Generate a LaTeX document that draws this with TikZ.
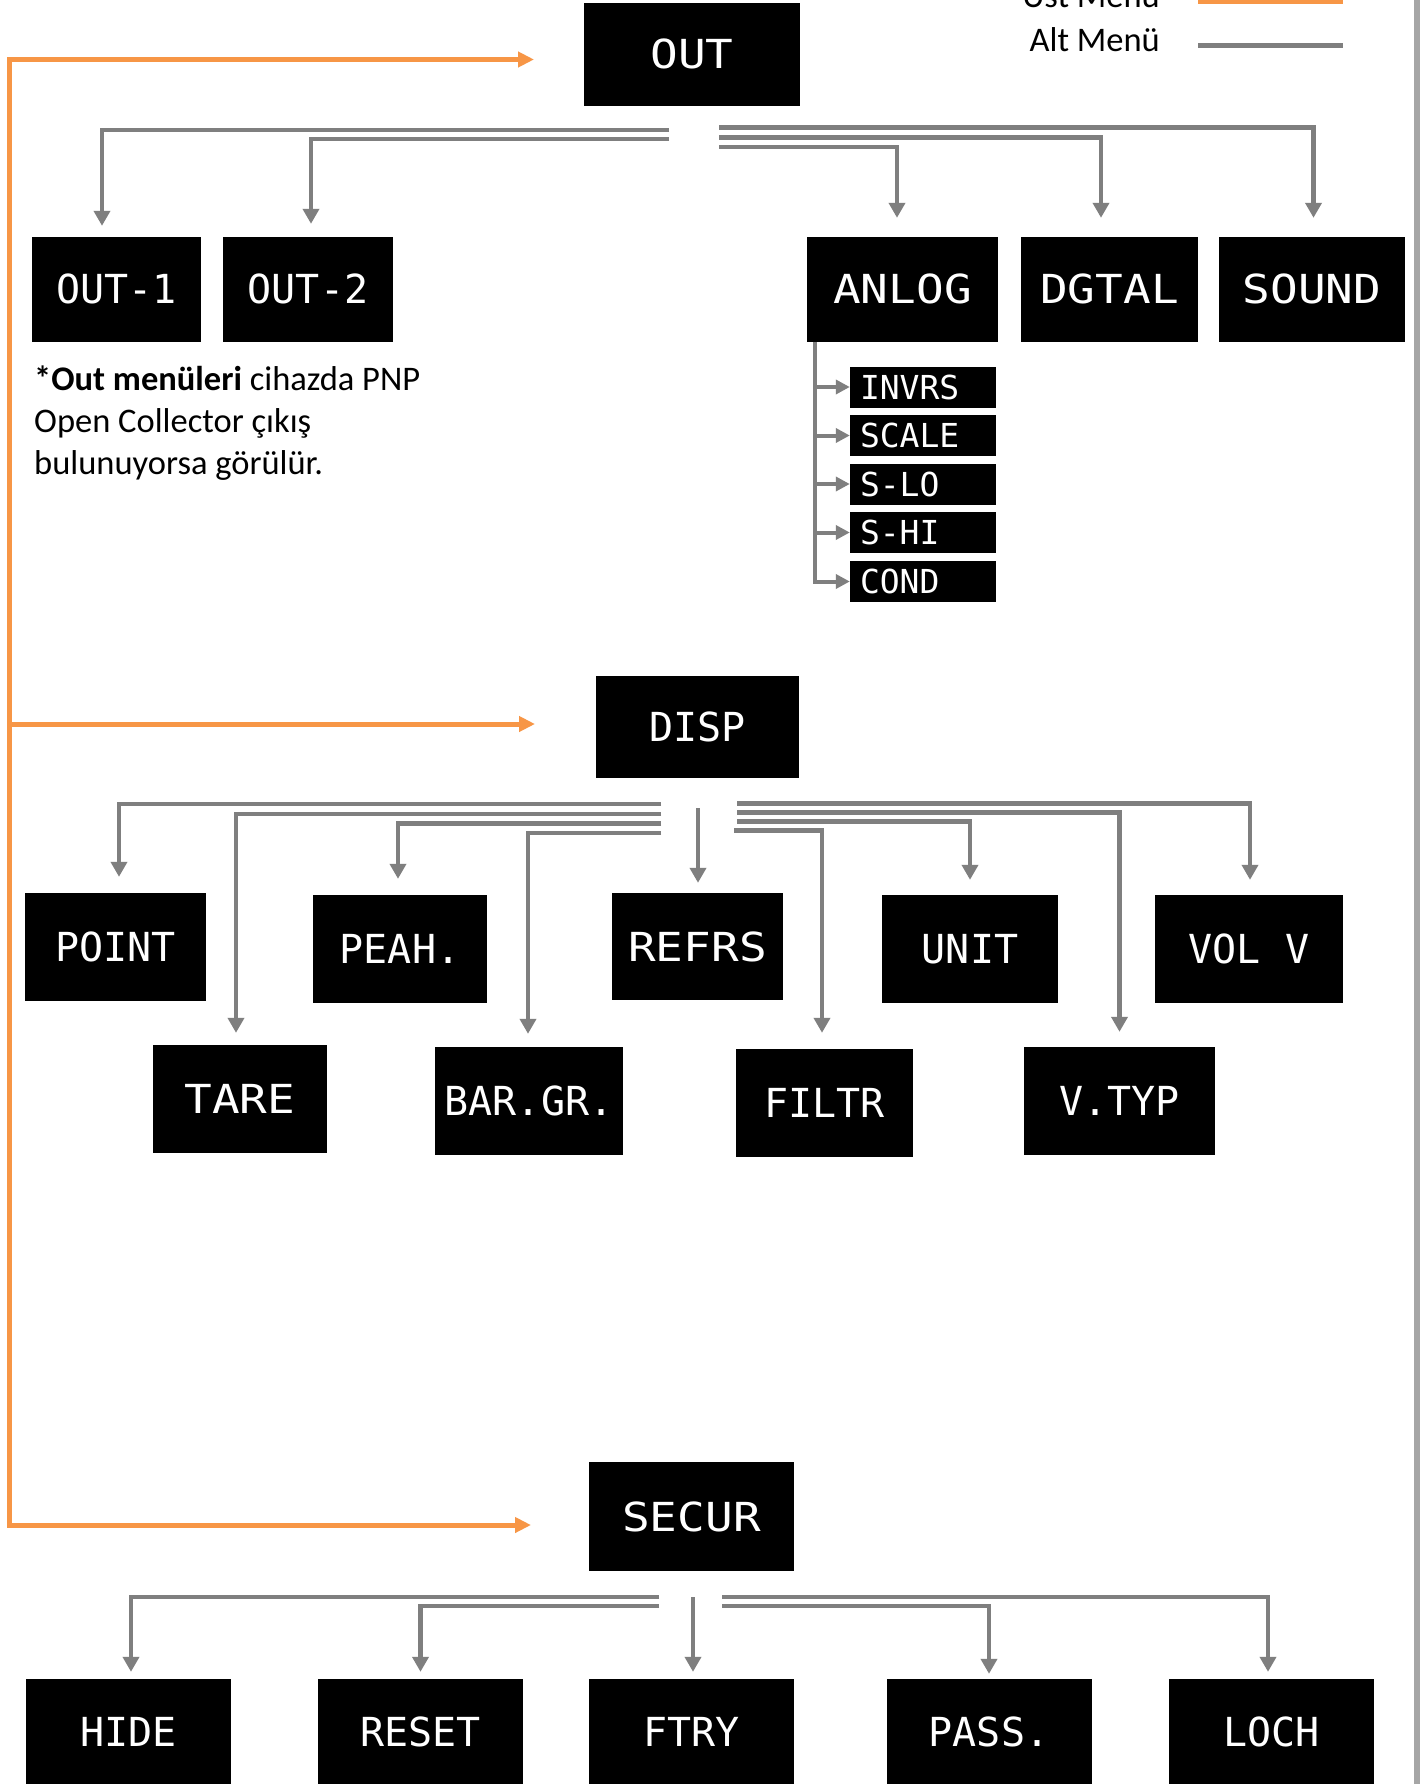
\documentclass[tikz,border=0pt]{standalone}
\usepackage{fontspec}
\setmainfont{Carlito}
\newfontfamily\lcd{DejaVu Sans Mono}
\newfontfamily\lcdwide[FakeStretch=1.15]{DejaVu Sans Mono}
\usetikzlibrary{arrows.meta}
\definecolor{ustc}{HTML}{F79646}
\definecolor{altc}{HTML}{7F7F7F}
\definecolor{edgec}{HTML}{A6A6A6}
\tikzset{
  lcdbox/.style={fill=black, text=white, inner sep=0pt, font=\lcd\fontsize{40}{48}\selectfont,
    text height=29pt, text depth=0pt, align=center},
  lcdwidebox/.style={lcdbox, font=\lcdwide\fontsize{40}{48}\selectfont},
  subbox/.style={fill=black, text=white, font=\lcd\fontsize{33}{40}\selectfont, text height=24pt,
    text depth=0pt, minimum height=41pt, inner xsep=10pt, inner ysep=0pt, align=left, text width=126pt},
  sub/.style={draw=altc, line width=4.5pt, -{Triangle[width=16pt,length=15pt]}, shorten >=14pt},
  subsm/.style={draw=altc, line width=4pt, -{Triangle[width=14pt,length=14pt]}},
  ustarrow/.style={draw=ustc, line width=5pt},
  legtext/.style={font=\fontsize{34.5}{40}\selectfont, inner sep=0pt},
  notetext/.style={font=\fontsize{34.5}{41}\selectfont, inner sep=0pt, anchor=base west},
}
\begin{document}
\begin{tikzpicture}[x=1pt,y=-1pt]
\useasboundingbox (0,0) rectangle (1420,1784);
\clip (0,0) rectangle (1420,1784);
\fill[white] (0,0) rectangle (1420,1784);
\fill[edgec] (1414,0) rectangle (1420,1784);

% legend
\node[legtext, anchor=base east] (lu) at (1160,8) {Üst Menü};
\node[legtext, anchor=base east] (la) at (1160,52) {Alt Menü};
\coordinate (lu1) at (1198,1.5); \coordinate (lu2) at (1343,1.5);
\coordinate (la1) at (1198,45.5); \coordinate (la2) at (1343,45.5);
\draw[draw=ustc, line width=4.5pt] (lu1) -- (lu2);
\draw[draw=altc, line width=4.5pt] (la1) -- (la2);

% ---------- OUT ----------
\node[lcdwidebox, minimum width=216pt, minimum height=103pt] (out) at (692,54.5) {OUT};
\node[lcdbox, minimum width=169pt, minimum height=105pt] (o1) at (116.5,289.5) {OUT-1};
\node[lcdbox, minimum width=170pt, minimum height=105pt] (o2) at (308,289.5) {OUT-2};
\node[lcdwidebox, minimum width=191pt, minimum height=105pt] (anlog) at (902.5,289.5) {ANLOG};
\node[lcdwidebox, minimum width=177pt, minimum height=105pt] (dgtal) at (1109.5,289.5) {DGTAL};
\node[lcdwidebox, minimum width=186pt, minimum height=105pt] (sound) at (1312,289.5) {SOUND};

\coordinate (oL1) at (669,130); \coordinate (oL2) at (669,139);
\coordinate (oR1) at (719,127.5); \coordinate (oR2) at (719,137.5); \coordinate (oR3) at (719,147);
\draw[sub, shorten >=11pt] (oL1) -| ([xshift=-14.5pt]o1.north);
\draw[sub, shorten >=13pt] (oL2) -| ([xshift=3pt]o2.north);
\draw[sub, shorten >=19pt] (oR3) -| ([xshift=-5.5pt]anlog.north);
\draw[sub, shorten >=19pt] (oR2) -| ([xshift=-8.5pt]dgtal.north);
\draw[sub, shorten >=19pt] (oR1) -| ([xshift=1.5pt]sound.north);

% ANLOG sub menu
\node[subbox] (invrs) at (923,387) {INVRS};
\node[subbox] (scale) at (923,435.5) {SCALE};
\node[subbox] (slo) at (923,484) {S-LO};
\node[subbox] (shi) at (923,532.5) {S-HI};
\node[subbox] (cond) at (923,581.5) {COND};
\coordinate (av) at (815,342);
\draw[subsm] (av) |- (cond.west);
\draw[subsm] (av |- invrs.west) -- (invrs.west);
\draw[subsm] (av |- scale.west) -- (scale.west);
\draw[subsm] (av |- slo.west) -- (slo.west);
\draw[subsm] (av |- shi.west) -- (shi.west);

% note
\node[notetext] (n1) at (34,390) {\textbf{*Out menüleri} cihazda PNP};
\node[notetext] (n2) at (34,432) {Open Collector çıkış};
\node[notetext] (n3) at (34,474) {bulunuyorsa görülür.};

% ---------- DISP ----------
\node[lcdbox, minimum width=203pt, minimum height=102pt] (disp) at (697.5,727) {DISP};
\node[lcdbox, minimum width=181pt, minimum height=108pt] (point) at (115.5,947) {POINT};
\node[lcdbox, minimum width=174pt, minimum height=108pt] (peak) at (400,949) {PEAH.};
\node[lcdwidebox, minimum width=171pt, minimum height=107pt] (refrs) at (697.5,946.5) {REFRS};
\node[lcdbox, minimum width=176pt, minimum height=108pt] (unit) at (970,949) {UNIT};
\node[lcdbox, minimum width=188pt, minimum height=108pt] (volv) at (1249,949) {VOL V};
\node[lcdwidebox, minimum width=174pt, minimum height=108pt] (tare) at (240,1099) {TARE};
\node[lcdbox, minimum width=188pt, minimum height=108pt] (bargr) at (529,1101) {BAR.GR.};
\node[lcdbox, minimum width=177pt, minimum height=108pt] (filtr) at (824.5,1103) {FILTR};
\node[lcdbox, minimum width=191pt, minimum height=108pt] (vtyp) at (1119.5,1101) {V.TYP};

\coordinate (dL1) at (661,804); \coordinate (dL2) at (661,814);
\coordinate (dL3) at (661,823.5); \coordinate (dL4) at (661,833);
\coordinate (dM) at (698,808);
\coordinate (dR1) at (737,803.5); \coordinate (dR2) at (737,812.5);
\coordinate (dR3) at (737,821.5); \coordinate (dR4) at (734,830.5);
\draw[sub, shorten >=16pt] (dL1) -| ([xshift=3.5pt]point.north);
\draw[sub, shorten >=12pt] (dL2) -| ([xshift=-4pt]tare.north);
\draw[sub, shorten >=16pt] (dL3) -| ([xshift=-2pt]peak.north);
\draw[sub, shorten >=13pt] (dL4) -| ([xshift=-1pt]bargr.north);
\draw[sub, shorten >=10pt] (dM) -- (dM |- refrs.north);
\draw[sub, shorten >=15pt] (dR1) -| ([xshift=1pt]volv.north);
\draw[sub, shorten >=15pt] (dR2) -| (vtyp.north);
\draw[sub, shorten >=15pt] (dR3) -| (unit.north);
\draw[sub, shorten >=16pt] (dR4) -| ([xshift=-2.5pt]filtr.north);

% ---------- SECUR ----------
\node[lcdwidebox, minimum width=205pt, minimum height=109pt] (secur) at (691.5,1516.5) {SECUR};
\node[lcdbox, minimum width=205pt, minimum height=105pt] (hide) at (128.5,1731.5) {HIDE};
\node[lcdbox, minimum width=205pt, minimum height=105pt] (reset) at (420.5,1731.5) {RESET};
\node[lcdbox, minimum width=205pt, minimum height=105pt] (ftry) at (691.5,1731.5) {FTRY};
\node[lcdbox, minimum width=205pt, minimum height=105pt] (pass) at (989,1731.5) {PASS.};
\node[lcdbox, minimum width=205pt, minimum height=105pt] (lock) at (1271.5,1731.5) {LOCH};

\coordinate (sL1) at (659,1597); \coordinate (sL2) at (659,1606);
\coordinate (sM) at (693,1597);
\coordinate (sR1) at (722,1597); \coordinate (sR2) at (722,1606);
\draw[sub, shorten >=7pt] (sL1) -| ([xshift=2.5pt]hide.north);
\draw[sub, shorten >=7pt] (sL2) -| (reset.north);
\draw[sub, shorten >=7pt] (sM) -- (sM |- ftry.north);
\draw[sub, shorten >=5pt] (sR2) -| (pass.north);
\draw[sub, shorten >=7pt] (sR1) -| ([xshift=-3.5pt]lock.north);

% ---------- orange top-menu arrows ----------
\coordinate (e1) at (534,59.5);
\coordinate (e2) at (535,724);
\coordinate (e3) at (531,1525);
\coordinate (oc) at (9,1525);
\coordinate (om) at (9,724);
\draw[ustarrow, {Triangle[width=15pt,length=16pt]}-{Triangle[width=15pt,length=16pt]}] (e1) -| (oc) -- (e3);
\draw[ustarrow, -{Triangle[width=15pt,length=16pt]}] (om) -- (e2);
\end{tikzpicture}
\end{document}
